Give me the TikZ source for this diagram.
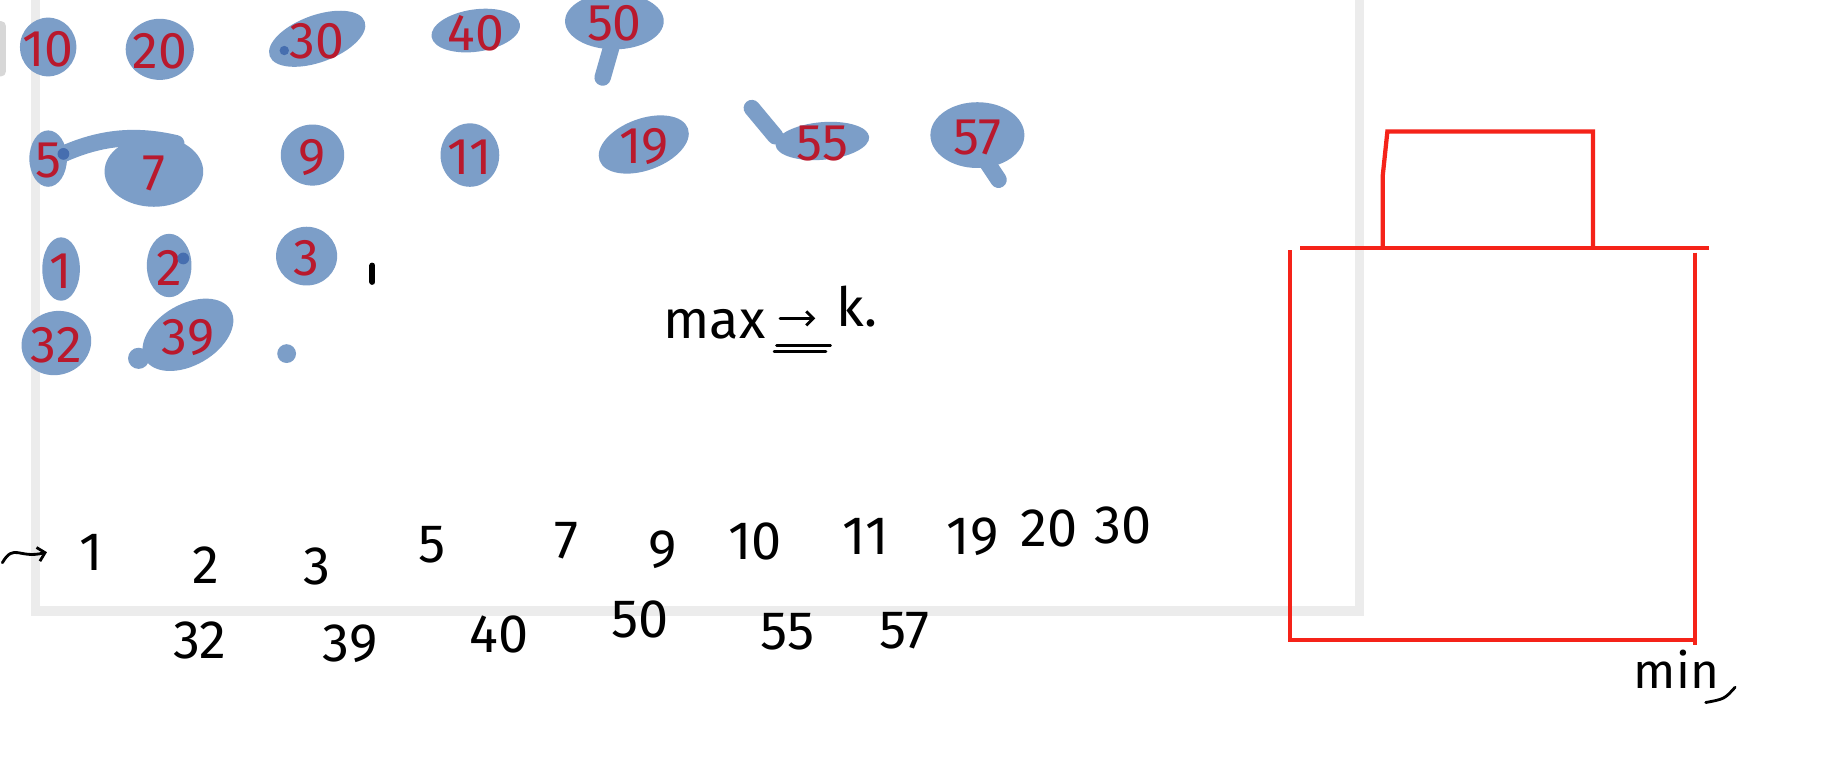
\documentclass[tikz,border=0pt]{standalone}
\usepackage{fontspec}
\setmainfont{Fira Sans}
\usetikzlibrary{arrows.meta, calc}
\definecolor{blobblue}{RGB}{124,158,200}
\definecolor{blobdark}{RGB}{70,110,175}
\definecolor{inkred}{RGB}{185,25,45}
\definecolor{boxred}{RGB}{245,35,25}
\definecolor{framegray}{RGB}{236,236,236}
\definecolor{tabgray}{RGB}{215,215,215}

\tikzset{
  blob/.style={fill=blobblue},
  smear/.style={draw=blobblue, line width=7pt, line cap=round},
  rednum/.style={text=inkred, font=\fontsize{22}{22}\selectfont, inner sep=0pt},
  inknum/.style={text=black, font=\fontsize{23}{23}\selectfont, inner sep=0pt},
  redline/.style={draw=boxred, line width=1.8pt},
  inkline/.style={draw=black, line width=1.2pt, line cap=round},
}

\begin{document}
\begin{tikzpicture}[x=0.5pt, y=-0.5pt]
  \useasboundingbox (0,0) rectangle (1568,660);
  \fill[white] (0,0) rectangle (1568,660);

  % board page
  \draw[framegray, line width=4pt] (30,0) -- (30,520) -- (1157,520) -- (1157,0);
  \fill[tabgray, rounded corners=2pt] (-6,18) rectangle (5,65);

  % shaded groups
  \draw[smear] (521,38) -- (513,66);
  \draw[smear] (54,131) .. controls (90,115) and (120,115) .. (150,122);
  \draw[smear] (640,92) -- (660,116);
  \draw[smear] (838,135) -- (850,153);
  \fill[blob] (118,305) circle (9);
  \fill[blob] (244,301) circle (8);
  \foreach \px/\py/\rx/\ry/\ang/\num in {
      41/40/24/25/0/10, 136/42/29/26/0/20, 270/33/43/20/20/30, 405/26/38/18/8/40, 523/18/42/24/0/50,
      41/135/16/24/0/5, 131/146/42/30/0/7, 266/132/27/26/0/9, 400/132/25/27/0/11,
      548/123/40/22/20/19, 700/120/40/16/5/55, 832/115/40/28/0/57,
      52/229/16/27/0/1, 144/226/19/27/0/2, 261/218/26/25/0/3, 48/292/30/27/20/32, 160/285/42/26/30/39} {
    \fill[blob, rotate around={\ang:(\px,\py)}] (\px,\py) ellipse [x radius=\rx, y radius=\ry];
    \node[rednum] (r\num) at (\px,\py+2) {\num};
  }
  \fill[blobdark] (54,131) circle (5);
  \fill[blobdark] (156,220) circle (5);
  \fill[blobdark] (242,43) circle (4);
  \draw[line width=2.5pt, line cap=round] (317,226) -- (317,240);

  % max -> k.
  \node[inknum, anchor=base] (maxtxt) at (608,288) {max};
  \coordinate (arrS) at (664,271);
  \coordinate (arrE) at (694,271);
  \draw[inkline, -{Straight Barb[length=3pt]}] (arrS) -- (arrE);
  \draw[inkline] (661,294) -- (707,294);
  \draw[inkline] (659,299) -- (703,299);
  \node[inknum, anchor=base west] (ktxt) at (712,278) {k.};

  % merged order
  \coordinate (hookS) at (2,479);
  \coordinate (hookE) at (40,470);
  \draw[inkline, -{Straight Barb[length=3pt]}] (hookS) .. controls (12,462) and (16,476) .. (hookE);
  \foreach \px/\py/\num in {78/470/1, 175/481/2, 270/482/3, 368/464/5, 482/460/7, 564/468/9,
      643/461/10, 737/457/11, 828/457/19, 893/450/20, 956/447/30,
      170/545/32, 298/548/39, 425/540/40, 545/527/50, 670/538/55, 770/537/57}
    \node[inknum] (s\num) at (\px,\py) {\num};

  % heap box
  \draw[redline] (1177,211) -- (1177,150) -- (1181,112) -- (1356,112) -- (1356,211);
  \draw[redline] (1107,211) -- (1455,211);
  \draw[redline] (1098,213) -- (1098,545) -- (1443,545);
  \draw[redline] (1443,215) -- (1443,549);
  \node[inknum, font=\fontsize{21}{21}\selectfont] (mintxt) at (1427,570) {min};
  \coordinate (minC) at (1477,585);
  \draw[inkline] (1452,598) .. controls (1468,595) .. (minC);
\end{tikzpicture}
\end{document}
